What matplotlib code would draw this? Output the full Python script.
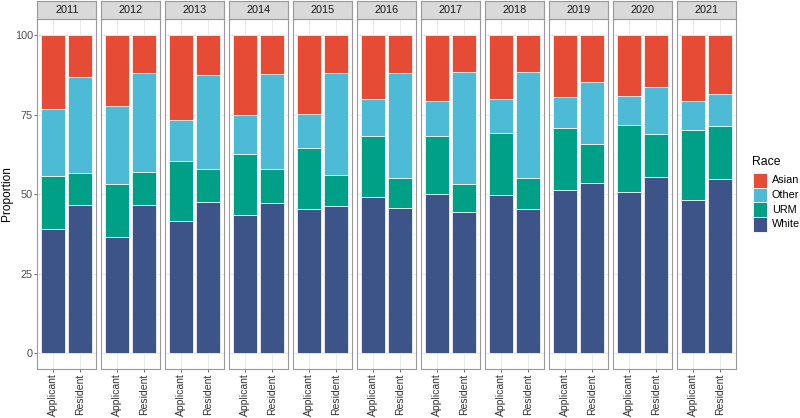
import matplotlib
matplotlib.use("Agg")
import matplotlib.pyplot as plt
from matplotlib.patches import Rectangle
import numpy as np

plt.rcParams['font.family'] = ['Liberation Sans', 'DejaVu Sans']

years = ["2011", "2012", "2013", "2014", "2015", "2016", "2017", "2018", "2019", "2020", "2021"]
groups = ["Applicant", "Resident"]
races = ["Asian", "Other", "URM", "White"]
colors = {"Asian": "#E64B35", "Other": "#4DBBD5", "URM": "#00A087", "White": "#3C5488"}

# proportions per year: [Applicant, Resident]
white = [[39.1, 46.7], [36.4, 46.6], [41.6, 47.5], [43.4, 47.3], [45.3, 46.3], [49.1, 45.7],
         [50.2, 44.5], [49.7, 45.4], [51.2, 53.6], [50.8, 55.5], [48.3, 54.8]]
urm = [[16.6, 9.9], [16.9, 10.4], [18.7, 10.4], [19.1, 10.6], [19.1, 9.6], [19.2, 9.5],
       [18.1, 8.8], [19.5, 9.8], [19.5, 12.3], [20.8, 13.3], [22.0, 16.7]]
other = [[21.1, 30.2], [24.5, 31.0], [13.0, 29.5], [12.4, 29.8], [10.7, 32.1], [11.6, 32.9],
         [11.1, 35.1], [10.6, 33.2], [9.9, 19.3], [9.3, 14.7], [8.9, 9.9]]
asian = [[23.2, 13.2], [22.2, 12.0], [26.7, 12.6], [25.1, 12.3], [24.9, 12.0], [20.1, 11.9],
         [20.6, 11.6], [20.2, 11.6], [19.4, 14.8], [19.1, 16.5], [20.8, 18.6]]

W, H = 800, 418
fig = plt.figure(figsize=(W / 100, H / 100), dpi=100)

left0 = 37.3
pw = 59.0
step = 64.0
top_panel = 19.0
bot_panel = 369.3
strip_top = 1.3

for i, yr in enumerate(years):
    x0 = left0 + i * step
    ax = fig.add_axes([x0 / W, 1 - bot_panel / H, pw / W, (bot_panel - top_panel) / H])
    xs = np.arange(1, 3)
    stack = [("White", white[i]), ("URM", urm[i]), ("Other", other[i]), ("Asian", asian[i])]
    bottom = np.zeros(2)
    for name, vals in stack:
        vals = np.array(vals)
        ax.bar(xs, vals, width=0.9, bottom=bottom, color=colors[name],
               edgecolor="white", linewidth=0.5, zorder=3)
        bottom = bottom + vals
    ax.set_xlim(0.4, 2.6)
    ax.set_ylim(-5, 105)
    ax.set_xticks(xs)
    ax.set_xticklabels(groups, rotation=90, fontsize=7.5, color="#333333")
    ax.set_yticks([0, 25, 50, 75, 100])
    ax.set_yticks([12.5, 37.5, 62.5, 87.5], minor=True)
    ax.grid(True, which="major", color="#EBEBEB", linewidth=0.7, zorder=0)
    ax.grid(True, which="minor", axis="y", color="#F3F3F3", linewidth=0.4, zorder=0)
    ax.tick_params(axis="both", which="major", length=2.0, width=0.5, color="#333333", pad=1.2)
    ax.tick_params(axis="y", which="minor", length=0)
    if i == 0:
        ax.set_yticklabels(["0", "25", "50", "75", "100"], fontsize=7.8, color="#4D4D4D")
    else:
        ax.set_yticklabels([])
        ax.tick_params(axis="y", which="major", length=0)
    for sp in ax.spines.values():
        sp.set_color("#999999")
        sp.set_linewidth(0.8)
    # strip
    sax = fig.add_axes([x0 / W, 1 - top_panel / H, pw / W, (top_panel - strip_top) / H])
    sax.set_facecolor("#D9D9D9")
    sax.set_xticks([])
    sax.set_yticks([])
    for sp in sax.spines.values():
        sp.set_color("#999999")
        sp.set_linewidth(0.8)
    sax.text(0.5, 0.5, yr, ha="center", va="center", fontsize=7.8, color="#1A1A1A",
             transform=sax.transAxes)

fig.text(7 / W, 1 - 194 / H, "Proportion", rotation=90, fontsize=8.6,
         ha="center", va="center", color="black")

# legend
fig.text(752 / W, 1 - 162 / H, "Race", fontsize=8.8, ha="left", va="center", color="black")
for j, r in enumerate(races):
    ky = 173 + j * 14.7
    fig.patches.append(Rectangle((752.5 / W, 1 - (ky + 14.7) / H), 14 / W, 14.7 / H,
                                 transform=fig.transFigure, facecolor=colors[r],
                                 edgecolor="white", linewidth=0.6))
    fig.text(772 / W, 1 - (ky + 7.3) / H, r, fontsize=7.8, ha="left", va="center", color="black")

fig.savefig("out.png", dpi=100)
